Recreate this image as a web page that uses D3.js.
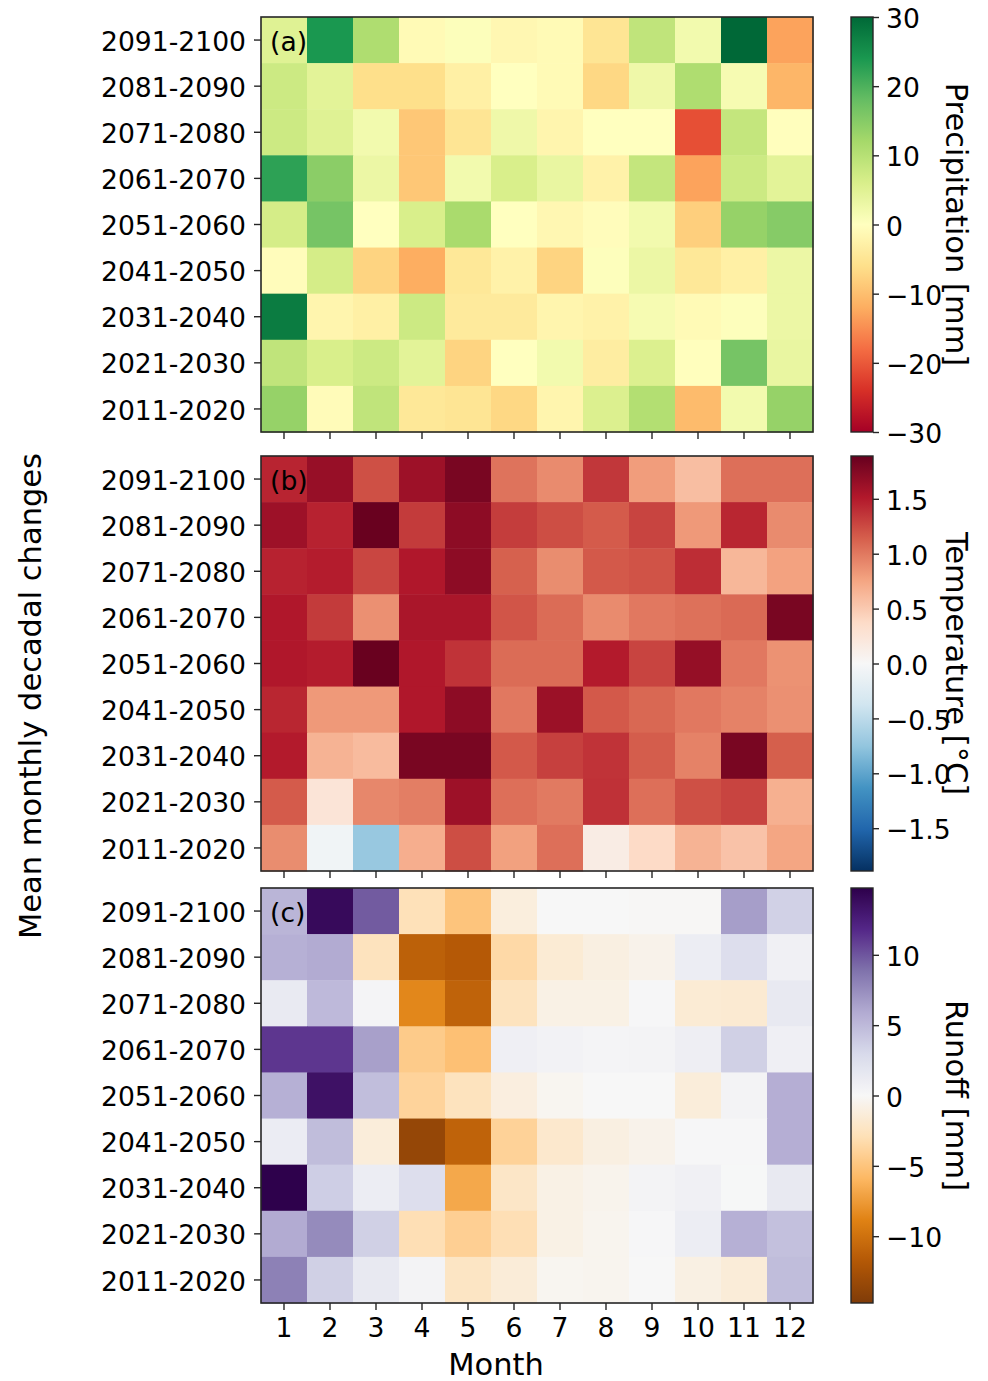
<!DOCTYPE html>
<html>
<head>
<meta charset="utf-8">
<script src="https://cdn.jsdelivr.net/npm/d3@7"></script>
<style>
  body { margin: 0; background: #fff; }
  svg { display: block; font-family: "DejaVu Sans", sans-serif; }
</style>
</head>
<body>
<svg id="chart" width="988" height="1381"></svg>
<script>
// rows listed top to bottom, as drawn
const decades = ["2091-2100", "2081-2090", "2071-2080", "2061-2070", "2051-2060",
                 "2041-2050", "2031-2040", "2021-2030", "2011-2020"]
const months = [1, 2, 3, 4, 5, 6, 7, 8, 9, 10, 11, 12]

// precipitation change [mm]
const precipitation = [
  [5, 24, 11, -1, 0.5, -1.5, -1, -5, 9, 2, 30, -13],
  [7.5, 4.5, -6, -6, -3, 0, -1, -7, 2.5, 11, 1.5, -11],
  [7.5, 5, 2, -9, -5, 2.5, -2, 0, 0, -21, 8.5, -0.2],
  [22.5, 14.5, 3, -9, 2, 6, 3.5, -2.5, 8.5, -13, 7.5, 4.5],
  [6.5, 16.5, 0, 6, 11.5, 0, -1.5, -0.5, 2, -8, 13.5, 15],
  [-0.5, 6.5, -7.5, -12, -4.5, -2.5, -7.5, 0.3, 3, -4.5, -3, 3],
  [27.5, -2, -3, 7.5, -4, -4, -2, -2.5, 1.5, -1, 0.3, 3],
  [9, 6, 7.5, 4.5, -7.5, 0, 2, -3.5, 5.5, -0.2, 16.5, 3.5],
  [13.5, -0.7, 9, -4.5, -5, -7, -2, 5.5, 10.5, -10.5, 2, 13.5]
]

// temperature change [°C]
const temperature = [
  [1.45, 1.65, 1.22, 1.62, 1.8, 1.03, 0.9, 1.35, 0.8, 0.58, 1.05, 1.05],
  [1.62, 1.46, 1.88, 1.33, 1.7, 1.32, 1.23, 1.16, 1.28, 0.82, 1.44, 0.9],
  [1.46, 1.49, 1.27, 1.52, 1.7, 1.13, 0.89, 1.17, 1.2, 1.4, 0.63, 0.77],
  [1.52, 1.33, 0.87, 1.55, 1.55, 1.19, 1.07, 0.9, 1.0, 1.04, 1.08, 1.8],
  [1.52, 1.49, 1.88, 1.52, 1.37, 1.07, 1.07, 1.5, 1.28, 1.66, 1.0, 0.86],
  [1.44, 0.82, 0.82, 1.52, 1.7, 1.0, 1.63, 1.17, 1.09, 1.0, 0.95, 0.87],
  [1.5, 0.66, 0.6, 1.8, 1.8, 1.17, 1.3, 1.37, 1.15, 0.95, 1.8, 1.14],
  [1.16, 0.25, 0.92, 0.97, 1.62, 1.05, 0.99, 1.38, 1.05, 1.22, 1.28, 0.68],
  [0.89, -0.07, -0.72, 0.69, 1.23, 0.78, 1.05, 0.15, 0.38, 0.66, 0.55, 0.75]
]

// runoff change [mm]
const runoff = [
  [5.3, 14, 9.8, -2.8, -5, -1.2, 0, 0, -0.1, -0.1, 6.6, 3.5],
  [5.6, 5.9, -2.6, -11.2, -11.7, -3.5, -1.6, -1, -0.6, 1, 2.5, 0.7],
  [1.3, 5, 0.3, -8.6, -11, -2.6, -0.8, -0.8, 0.1, -1.6, -1.7, 1.4],
  [11.2, 11.2, 6.5, -4.5, -5.3, 0.8, 0.5, 0.3, 0.4, 0.9, 3.6, 0.8],
  [5.6, 13.5, 4.7, -3.9, -2.6, -1.1, -0.3, 0, 0, -1.3, 0.4, 5.7],
  [1.1, 4.8, -1.3, -13.5, -11, -4, -1.9, -1, -0.6, 0.1, 0.1, 5.7],
  [14.7, 3.7, 1, 2.5, -6.8, -2.2, -0.8, -0.5, 0.4, 0.7, 0.05, 1.4],
  [5.9, 7.6, 3.6, -3, -4.2, -3, -0.8, -0.4, 0.1, 1, 5.6, 4.6],
  [8.1, 3.6, 1.4, 0.4, -2.3, -1.4, -0.3, -0.4, 0, -0.9, -1.4, 4.8]
]

const precipTicks = [-30, -20, -10, 0, 10, 20, 30]
const tempTicks = [-1.5, -1.0, -0.5, 0.0, 0.5, 1.0, 1.5]
const runoffTicks = [-10, -5, 0, 5, 10]

// matplotlib colormaps (low -> high)
const RdYlGn = ["#a50026","#d73027","#f46d43","#fdae61","#fee08b","#ffffbf","#d9ef8b","#a6d96a","#66bd63","#1a9850","#006837"]
const RdBu_r = ["#053061","#2166ac","#4393c3","#92c5de","#d1e5f0","#f7f7f7","#fddbc7","#f4a582","#d6604d","#b2182b","#67001f"]
const PuOr = ["#7f3b08","#b35806","#e08214","#fdb863","#fee0b6","#f7f7f7","#d8daeb","#b2abd2","#8073ac","#542788","#2d004b"]

function cmap(colors, lim) {
  return d3.scaleLinear()
    .domain(d3.range(colors.length).map(i => -lim + 2 * lim * i / (colors.length - 1)))
    .range(colors)
    .clamp(true)
}

const svg = d3.select('#chart')
const left = 261, right = 813
const cbLeft = 851, cbRight = 873
const tickFont = 26.6, labelFont = 30.5

const x = d3.scaleBand().domain(months).range([left, right])

const panels = [
  {tag: '(a)', data: precipitation, top: 17, bottom: 432, lim: 30, colors: RdYlGn,
   ticks: precipTicks, fmt: d => d3.format('d')(d), label: 'Precipitation [mm]'},
  {tag: '(b)', data: temperature, top: 456, bottom: 871, lim: 1.89, colors: RdBu_r,
   ticks: tempTicks, fmt: d => d3.format('.1f')(d), label: 'Temperature [°C]'},
  {tag: '(c)', data: runoff, top: 888, bottom: 1303, lim: 14.75, colors: PuOr,
   ticks: runoffTicks, fmt: d => d3.format('d')(d), label: 'Runoff [mm]'}
]

panels.forEach((p, pi) => {
  const y = d3.scaleBand().domain(decades).range([p.top, p.bottom])
  const color = cmap(p.colors, p.lim)
  const g = svg.append('g')

  const cells = []
  p.data.forEach((row, ri) => row.forEach((v, mi) => cells.push({d: decades[ri], m: months[mi], v: v})))

  g.append('g')
    .selectAll('rect')
    .data(cells)
    .enter()
    .append('rect')
    .attr('x', d => x(d.m))
    .attr('y', d => y(d.d))
    .attr('width', x.bandwidth() + 0.5)
    .attr('height', y.bandwidth() + 0.5)
    .attr('fill', d => color(d.v))

  // frame
  g.append('rect')
    .attr('x', left).attr('y', p.top)
    .attr('width', right - left).attr('height', p.bottom - p.top)
    .attr('fill', 'none').attr('stroke', '#262626').attr('stroke-width', 1.6)

  // y axis
  const yAxis = g.append('g')
    .attr('transform', `translate(${left},0)`)
    .call(d3.axisLeft(y).tickSize(7).tickPadding(8))
  yAxis.select('.domain').remove()
  yAxis.selectAll('text').attr('font-size', tickFont).attr('fill', '#000')
    .attr('font-family', '"DejaVu Sans", sans-serif').attr('dy', '0.4em')
  yAxis.selectAll('line').attr('stroke', '#262626').attr('stroke-width', 1.4)

  // x axis
  const xAxis = g.append('g')
    .attr('transform', `translate(0,${p.bottom})`)
    .call(d3.axisBottom(x).tickSize(7).tickPadding(8))
  xAxis.select('.domain').remove()
  xAxis.selectAll('line').attr('stroke', '#262626').attr('stroke-width', 1.4)
  xAxis.selectAll('text').attr('font-size', tickFont).attr('fill', '#000')
    .attr('font-family', '"DejaVu Sans", sans-serif')
  if (pi < panels.length - 1) xAxis.selectAll('text').remove()

  // panel tag
  g.append('text')
    .attr('x', left + 9)
    .attr('y', y(decades[0]) + y.bandwidth() / 2)
    .attr('dy', '0.4em')
    .attr('font-size', tickFont)
    .text(p.tag)

  // colorbar
  const cy = d3.scaleLinear().domain([-p.lim, p.lim]).range([p.bottom, p.top])
  const gradId = 'grad' + pi
  const grad = svg.append('defs').append('linearGradient')
    .attr('id', gradId).attr('x1', 0).attr('y1', 1).attr('x2', 0).attr('y2', 0)
  d3.range(0, 1.0001, 0.02).forEach(t => {
    grad.append('stop').attr('offset', t).attr('stop-color', color(-p.lim + 2 * p.lim * t))
  })
  g.append('rect')
    .attr('x', cbLeft).attr('y', p.top)
    .attr('width', cbRight - cbLeft).attr('height', p.bottom - p.top)
    .attr('fill', `url(#${gradId})`)
    .attr('stroke', '#262626').attr('stroke-width', 1.4)

  const cAxis = g.append('g')
    .attr('transform', `translate(${cbRight},0)`)
    .call(d3.axisRight(cy).tickValues(p.ticks).tickFormat(p.fmt).tickSize(6).tickPadding(7))
  cAxis.select('.domain').remove()
  cAxis.selectAll('line').attr('stroke', '#262626').attr('stroke-width', 1.4)
  cAxis.selectAll('text').attr('font-size', tickFont).attr('fill', '#000')
    .attr('font-family', '"DejaVu Sans", sans-serif').attr('dy', '0.4em')
    .text(d => p.fmt(d).replace('-', '\u2212'))

  g.append('text')
    .attr('transform', `translate(956,${(p.top + p.bottom) / 2}) rotate(90)`)
    .attr('text-anchor', 'middle')
    .attr('dominant-baseline', 'central')
    .attr('font-size', labelFont)
    .text(p.label)
})

svg.append('text')
  .attr('x', 496)
  .attr('y', 1375)
  .attr('text-anchor', 'middle')
  .attr('font-size', labelFont)
  .text('Month')

svg.append('text')
  .attr('transform', `translate(30,${(17 + 1303) / 2 + 36}) rotate(-90)`)
  .attr('text-anchor', 'middle')
  .attr('dominant-baseline', 'central')
  .attr('font-size', labelFont)
  .text('Mean monthly decadal changes')
</script>
</body>
</html>
